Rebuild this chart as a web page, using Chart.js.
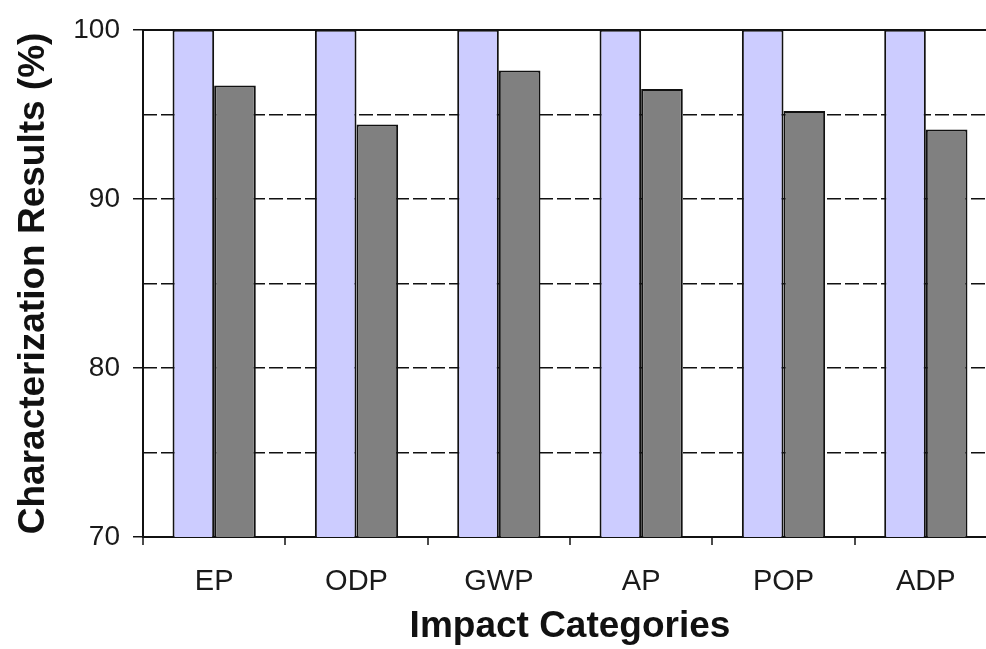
<!DOCTYPE html>
<html>
<head>
<meta charset="utf-8">
<script src="https://cdn.jsdelivr.net/npm/chart.js@4/dist/chart.umd.min.js"></script>
<style>
  html, body { margin: 0; padding: 0; background: #ffffff; overflow: hidden; }
  #wrap { width: 986px; height: 649px; overflow: hidden; }
  canvas { display: block; }
</style>
</head>
<body>
<div id="wrap"><canvas id="chart" width="1000" height="649"></canvas></div>
<script>
// Impact categories on the x axis
const categories = ['EP', 'ODP', 'GWP', 'AP', 'POP', 'ADP'];
// Characterization results (%) for the two cases
const referenceValues = [100, 100, 100, 100, 100, 100];
const improvedValues = [96.7, 94.4, 97.6, 96.5, 95.2, 94.1];
// Y axis range and step
const yMin = 70;
const yMax = 100;
const yStep = 5;
const yLabelStep = 10;

const FONT = 'Arial, "Liberation Sans", Helvetica, sans-serif';
const INK = '#111111';
const NONE = 'rgba(0,0,0,0)';

new Chart(document.getElementById('chart'), {
  type: 'bar',
  data: {
    labels: categories,
    datasets: [
      {
        label: 'Reference',
        data: referenceValues,
        backgroundColor: '#ccccff',
        borderColor: INK,
        borderWidth: 2,
        borderSkipped: false
      },
      {
        label: 'Improved',
        data: improvedValues,
        backgroundColor: '#808080',
        borderColor: INK,
        borderWidth: 2,
        borderSkipped: false
      }
    ]
  },
  options: {
    responsive: false,
    animation: false,
    layout: { padding: { top: 27, right: 3, left: 0, bottom: 0 } },
    datasets: {
      bar: { categoryPercentage: 0.585, barPercentage: 1.0 }
    },
    plugins: {
      legend: { display: false },
      tooltip: { enabled: false }
    },
    scales: {
      x: {
        position: 'bottom',
        grid: {
          display: true,
          offset: true,
          drawOnChartArea: true,
          drawTicks: true,
          tickLength: 8,
          tickColor: INK,
          tickWidth: 1.5,
          lineWidth: 2,
          // only the left edge of the plot gets a full-height line (the value axis)
          color: (ctx) => (ctx.index === 0 ? INK : NONE)
        },
        border: { display: true, color: INK, width: 2 },
        ticks: {
          color: '#1a1a1a',
          font: { family: FONT, size: 29 },
          padding: 20,
          maxRotation: 0
        },
        title: {
          display: true,
          text: 'Impact Categories',
          color: INK,
          font: { family: FONT, size: 37, weight: 'bold' },
          padding: { top: 0, bottom: 0 }
        },
        afterFit: (scale) => { scale.height = 112; }
      },
      xTop: {
        type: 'category',
        labels: categories,
        position: 'top',
        grid: { display: false, drawTicks: false },
        border: { display: true, color: INK, width: 2 },
        ticks: { display: false },
        afterFit: (scale) => { scale.height = 0; }
      },
      y: {
        min: yMin,
        max: yMax,
        ticks: {
          stepSize: yStep,
          color: '#1a1a1a',
          font: { family: FONT, size: 28 },
          padding: 13,
          callback: (v) => (v % yLabelStep === 0 ? String(v) : '')
        },
        grid: {
          drawTicks: true,
          tickLength: 10,
          tickWidth: 1.5,
          lineWidth: 1.5,
          color: (ctx) => (ctx.tick && (ctx.tick.value === yMin || ctx.tick.value === yMax) ? NONE : INK),
          tickColor: (ctx) => (ctx.tick && ctx.tick.value % yLabelStep === 0 ? INK : NONE)
        },
        border: { display: false, dash: [14, 4] },
        title: {
          display: true,
          text: 'Characterization Results (%)',
          color: INK,
          font: { family: FONT, size: 37, weight: 'bold' },
          padding: { top: 12, bottom: 0 }
        },
        afterFit: (scale) => { scale.width = 143; }
      }
    }
  }
});
</script>
</body>
</html>
